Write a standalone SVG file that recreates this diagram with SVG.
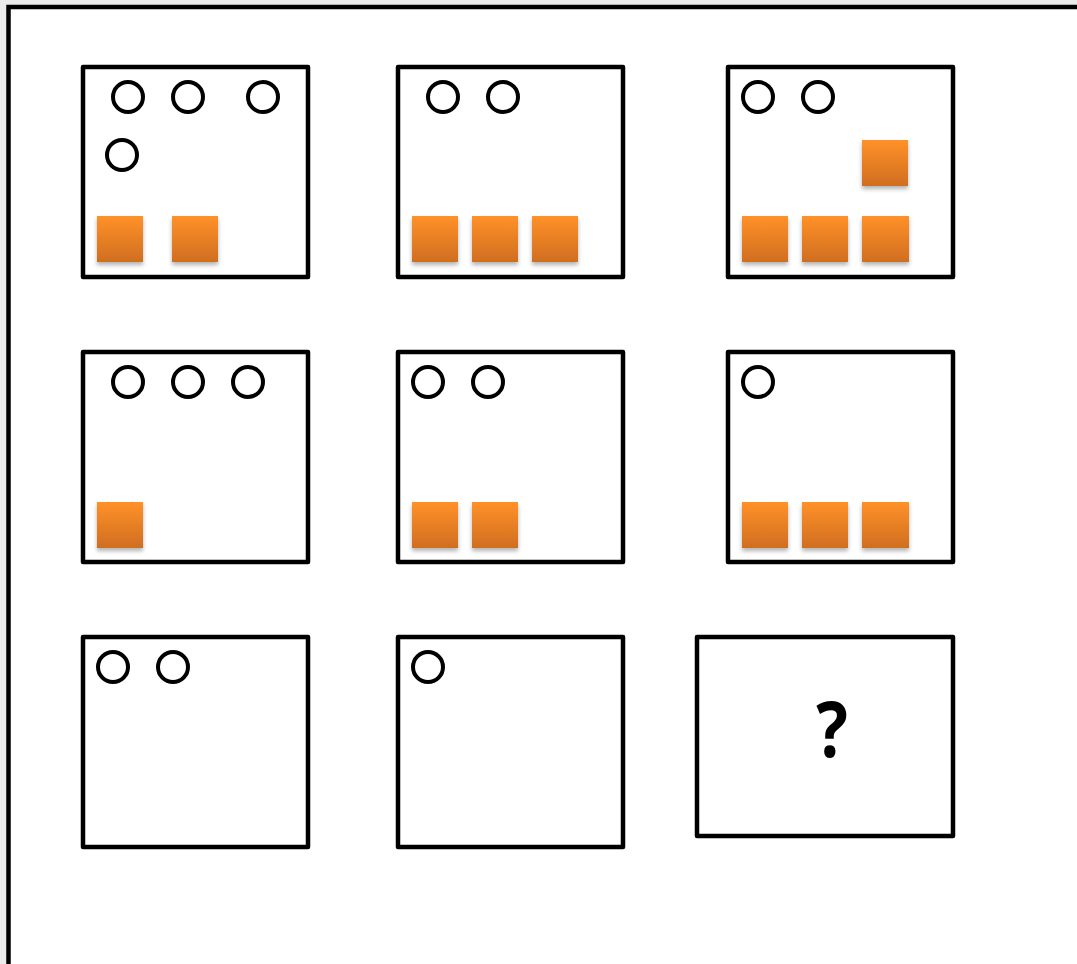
<svg xmlns="http://www.w3.org/2000/svg" width="1077" height="964" viewBox="0 0 1077 964">
<style>
.box{fill:#fff;stroke:#000;stroke-width:4.5;stroke-linejoin:round}
.c{fill:none;stroke:#000;stroke-width:4}
.sq{fill:url(#og);filter:url(#sh)}
</style>
<defs>
<linearGradient id="og" x1="0" y1="0" x2="0" y2="1">
<stop offset="0" stop-color="#ff9129"/>
<stop offset="1" stop-color="#d06e1f"/>
</linearGradient>
<filter id="sh" x="-30%" y="-30%" width="160%" height="170%">
<feDropShadow dx="0" dy="3" stdDeviation="2" flood-color="#000" flood-opacity="0.3"/>
</filter>
</defs>
<rect width="1077" height="964" fill="#ebebeb"/>
<rect x="8.5" y="7" width="1100" height="1000" fill="#fff" stroke="#000" stroke-width="4.5"/>
<g id="b1">
<rect class="box" x="83" y="67" width="225" height="210"/>
<circle class="c" cx="128" cy="97" r="15"/><circle class="c" cx="188" cy="97" r="15"/><circle class="c" cx="263" cy="97" r="15"/><circle class="c" cx="122" cy="155" r="15"/>
<rect class="sq" x="97" y="216" width="46" height="46"/><rect class="sq" x="172" y="216" width="46" height="46"/>
</g>
<g id="b2">
<rect class="box" x="398" y="67" width="225" height="210"/>
<circle class="c" cx="443" cy="97" r="15"/><circle class="c" cx="503" cy="97" r="15"/>
<rect class="sq" x="412" y="216" width="46" height="46"/><rect class="sq" x="472" y="216" width="46" height="46"/><rect class="sq" x="532" y="216" width="46" height="46"/>
</g>
<g id="b3">
<rect class="box" x="728" y="67" width="225" height="210"/>
<circle class="c" cx="758" cy="97" r="15"/><circle class="c" cx="818" cy="97" r="15"/>
<rect class="sq" x="862" y="140" width="46" height="46"/>
<rect class="sq" x="742" y="216" width="46" height="46"/><rect class="sq" x="802" y="216" width="46" height="46"/><rect class="sq" x="862" y="216" width="47" height="46"/>
</g>
<g id="b4">
<rect class="box" x="83" y="352" width="225" height="210"/>
<circle class="c" cx="128" cy="382" r="15"/><circle class="c" cx="188" cy="382" r="15"/><circle class="c" cx="248" cy="382" r="15"/>
<rect class="sq" x="97" y="502" width="46" height="46"/>
</g>
<g id="b5">
<rect class="box" x="398" y="352" width="225" height="210"/>
<circle class="c" cx="428" cy="382" r="15"/><circle class="c" cx="488" cy="382" r="15"/>
<rect class="sq" x="412" y="502" width="46" height="46"/><rect class="sq" x="472" y="502" width="46" height="46"/>
</g>
<g id="b6">
<rect class="box" x="728" y="352" width="225" height="210"/>
<circle class="c" cx="758" cy="382" r="15"/>
<rect class="sq" x="742" y="502" width="46" height="46"/><rect class="sq" x="802" y="502" width="46" height="46"/><rect class="sq" x="862" y="502" width="47" height="46"/>
</g>
<g id="b7">
<rect class="box" x="83" y="637" width="225" height="210"/>
<circle class="c" cx="113" cy="667" r="15"/><circle class="c" cx="173" cy="667" r="15"/>
</g>
<g id="b8">
<rect class="box" x="398" y="637" width="225" height="210"/>
<circle class="c" cx="428" cy="667" r="15"/>
</g>
<g id="b9">
<rect class="box" x="697" y="637" width="256" height="199"/>
<text x="0" y="0" transform="translate(832,757) scale(0.85,1)" text-anchor="middle" font-family="'Open Sans', 'DejaVu Sans', sans-serif" font-weight="bold" font-size="78">?</text>
</g>
<g id="connectors"/>
</svg>
